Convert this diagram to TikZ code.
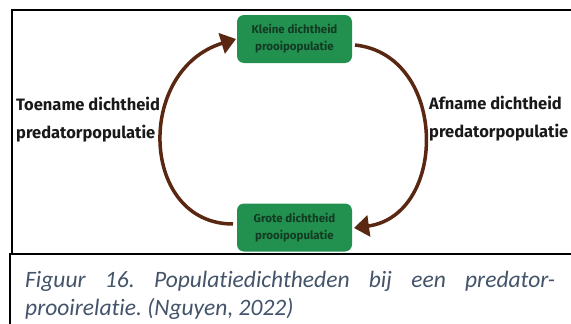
\documentclass[tikz,border=0pt]{standalone}
\usepackage{fontspec}
\setmainfont{Carlito}[Ligatures={NoCommon}]
\newfontfamily\labfont{Fira Sans}
\usetikzlibrary{arrows.meta}
\definecolor{boxgreen}{HTML}{22914F}
\definecolor{boxtext}{HTML}{123A22}
\definecolor{arrbrown}{HTML}{5A2812}
\definecolor{capcol}{HTML}{44546A}
\begin{document}
\begin{tikzpicture}[x=1pt,y=-1pt,
  frame/.style={line width=2pt,black},
  popbox/.style={fill=boxgreen,draw=none,rounded corners=7pt,minimum width=115pt,minimum height=48pt,
    align=center,text=boxtext,font=\labfont\bfseries\fontsize{11.5}{17}\selectfont,inner sep=0pt},
  lbl/.style={align=left,font=\labfont\bfseries\fontsize{16.5}{28}\selectfont,inner sep=0pt,anchor=north west,text=black!90},
  cyc/.style={arrbrown,line width=3.5pt,-{Triangle[width=21pt,length=15pt]}}]
\useasboundingbox (0,0) rectangle (571,324);
\fill[white] (0,0) rectangle (571,324);
% frames
\draw[frame] (571,10) -- (12,10) -- (12,254);
\draw[frame] (571,254) -- (10,254) -- (10,324);
% boxes
\node[popbox] (top) at (294.5,39) {Kleine dichtheid\\prooipopulatie};
\node[popbox] (bot) at (294.5,227.5) {Grote dichtheid\\prooipopulatie};
% labels
\node[lbl] (left) at (16,97) {Toename dichtheid\\predatorpopulatie};
\node[lbl] (right) at (429,96) {Afname dichtheid\\predatorpopulatie};
% arrows
\coordinate (ls) at (233,224);
\coordinate (le) at (236,39);
\coordinate (rs) at (355,45);
\coordinate (re) at (354,228);
\draw[cyc] (ls) .. controls (140,224) and (135,70) .. (le);
\draw[cyc] (rs) .. controls (448,55) and (448,215) .. (re);
% caption
\node[anchor=north west,text width=530pt,align=justify,inner sep=0pt,text=capcol,
  font=\frenchspacing\itshape\fontsize{23.5}{28}\selectfont] (cap) at (25,271)
  {Figuur 16. Populatiedichtheden bij een predator-\linebreak prooirelatie. (Nguyen, 2022)};
\end{tikzpicture}
\end{document}
